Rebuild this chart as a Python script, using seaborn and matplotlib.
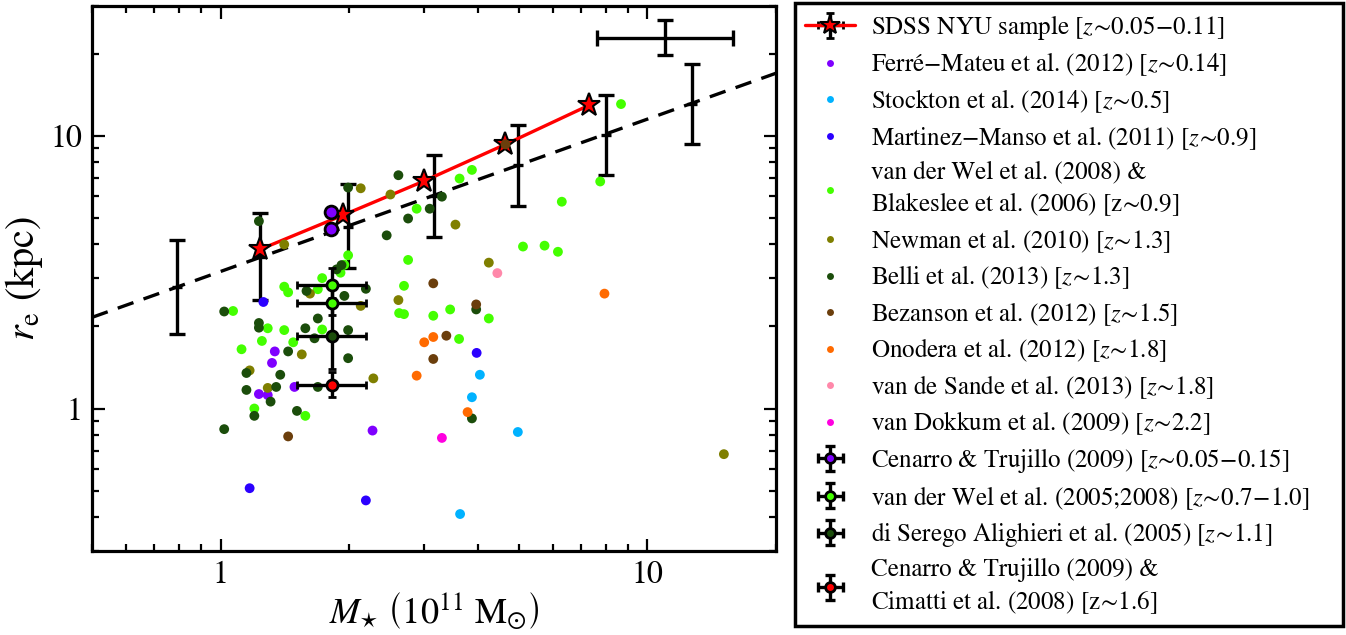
import numpy as np
import pandas as pd
import matplotlib
matplotlib.use('Agg')
import matplotlib.pyplot as plt
import seaborn as sns
from matplotlib.lines import Line2D
from matplotlib.container import ErrorbarContainer
from matplotlib.collections import LineCollection
from matplotlib.ticker import LogLocator, NullFormatter, FuncFormatter

# ---------------- data (M in 1e11 Msun, r_e in kpc) ----------------
SDSS_M = [1.24, 1.94, 3.00, 4.65, 7.29]
SDSS_R = [3.84, 5.13, 6.84, 9.32, 12.96]

DASH_M = [0.5, 20.0]
DASH_R = [2.16, 17.0]

BIN_M = [0.79, 1.24, 1.99, 3.16, 4.97, 8.01, 12.7]
BIN_R = [2.79, 3.59, 4.65, 6.02, 7.83, 10.09, 13.07]
BIN_LO = [1.88, 2.50, 3.29, 4.27, 5.54, 7.19, 9.32]
BIN_HI = [4.14, 5.21, 6.65, 8.52, 10.97, 14.14, 18.44]

TYP_M = [11.0]
TYP_R = [22.8]
TYP_MLO = [7.6]
TYP_MHI = [15.9]
TYP_RLO = [19.8]
TYP_RHI = [26.6]

FERRE_M = [1.34, 1.32, 1.23, 1.29, 1.49, 2.27]
FERRE_R = [1.62, 1.47, 1.13, 1.12, 1.20, 0.83]

STOCKTON_M = [4.05, 3.88, 4.97, 3.64]
STOCKTON_R = [1.33, 1.10, 0.82, 0.41]

MARTINEZ_M = [1.26, 1.17, 2.19, 3.98]
MARTINEZ_R = [2.46, 0.51, 0.46, 1.60]

VDWEL_M = [1.99, 1.95, 1.91, 1.73, 1.41, 1.44, 1.69, 2.69, 2.62, 2.69,
           1.07, 1.29, 1.41, 1.25, 1.12, 1.48, 1.20, 1.58, 1.73, 2.75,
           3.15, 2.88, 3.63, 3.88, 6.30, 7.75, 5.11, 5.74, 6.17, 3.45,
           4.25, 3.62, 8.67]
VDWEL_R = [3.65, 3.37, 3.15, 3.01, 2.80, 2.67, 2.74, 2.82, 2.24, 2.22,
           2.28, 1.97, 1.94, 1.77, 1.65, 1.75, 1.00, 0.94, 1.95, 3.51,
           2.19, 5.41, 6.98, 7.51, 5.74, 6.81, 3.93, 3.96, 3.76, 2.31,
           2.14, 1.80, 13.1]

NEWMAN_M = [1.41, 2.13, 2.50, 1.62, 2.13, 2.61, 1.55, 1.17, 1.29, 2.28, 3.55, 4.25, 15.1]
NEWMAN_R = [4.00, 6.43, 6.10, 2.64, 2.38, 2.50, 1.58, 1.38, 1.19, 1.29, 4.73, 3.43, 0.68]

BELLI_M = [1.23, 1.99, 2.61, 2.45, 1.92, 1.87, 1.59, 2.19, 1.95, 1.02,
           1.23, 1.23, 1.44, 1.15, 1.38, 1.15, 1.35, 1.31, 1.20, 1.51,
           1.02, 1.58, 1.69, 1.66, 1.99, 1.99, 1.69, 2.75, 3.09, 3.30,
           3.97, 3.88]
BELLI_R = [4.87, 6.47, 7.18, 4.32, 3.36, 3.24, 2.70, 2.75, 2.59, 2.27,
           2.06, 1.98, 1.62, 1.35, 1.33, 1.17, 1.20, 1.06, 0.94, 0.98,
           0.84, 1.97, 2.14, 1.81, 1.94, 1.53, 1.20, 4.98, 5.41, 5.99,
           2.31, 0.92]

BEZANSON_M = [1.44, 3.15, 3.15, 3.97, 3.38, 4.65]
BEZANSON_R = [0.79, 2.88, 1.52, 2.41, 1.85, 9.32]

ONODERA_M = [3.00, 3.15, 2.88, 7.93, 3.79]
ONODERA_R = [1.75, 1.83, 1.32, 2.64, 0.97]

VDSANDE_M = [4.45]
VDSANDE_R = [3.14]

VDOKKUM_M = [3.30]
VDOKKUM_R = [0.78]

CT_M = [1.81, 1.81]
CT_R = [5.24, 4.57]

VDW05_M = [1.82, 1.82]
VDW05_R = [2.83, 2.43]
VDW05_RLO = [2.55, 2.20]
VDW05_RHI = [3.27, 2.75]
VDW05_MLO = [1.51, 1.51]
VDW05_MHI = [2.19, 2.19]

DSA_M = [1.82]
DSA_R = [1.84]
DSA_RLO = [1.40]
DSA_RHI = [2.40]
DSA_MLO = [1.51]
DSA_MHI = [2.19]

CIM_M = [1.82]
CIM_R = [1.22]
CIM_RLO = [1.10]
CIM_RHI = [1.36]
CIM_MLO = [1.51]
CIM_MHI = [2.19]

# ---------------- styling ----------------
C_FERRE = '#7f00ff'
C_STOCK = '#00b2ff'
C_MART = '#2b00ff'
C_VDW = '#44ff00'
C_NEWM = '#7f7f00'
C_BELLI = '#1b4d0b'
C_BEZ = '#6b3e0c'
C_ONO = '#ff6a00'
C_SANDE = '#ff88aa'
C_DOKK = '#ff00e0'

sns.set_style('ticks', rc={'axes.edgecolor': 'black', 'xtick.color': 'black',
                           'ytick.color': 'black', 'text.color': 'black',
                           'axes.labelcolor': 'black'})
plt.rcParams['font.family'] = ['STIXGeneral', 'Liberation Serif', 'DejaVu Serif']
plt.rcParams['mathtext.fontset'] = 'stix'

fig = plt.figure(figsize=(13.46, 6.35), dpi=100)
ax = fig.add_axes([92/1346, 1-551/635, (776-92)/1346, (551-6)/635])
ax.set_xscale('log')
ax.set_yscale('log')

# dashed relation
sns.lineplot(x=DASH_M, y=DASH_R, ax=ax, color='black', lw=2.4, zorder=2)
ax.lines[-1].set_dashes((5, 3.2))

# binned error bars
BIN_Ra = np.array(BIN_R)
ax.errorbar(BIN_M, BIN_R, yerr=[BIN_Ra-np.array(BIN_LO), np.array(BIN_HI)-BIN_Ra],
            fmt='_', ms=7, mew=2.4, color='black', ecolor='black', elinewidth=2.4,
            capsize=5.5, capthick=2.4, zorder=3)
ax.errorbar(TYP_M, TYP_R,
            xerr=[np.array(TYP_M)-np.array(TYP_MLO), np.array(TYP_MHI)-np.array(TYP_M)],
            yerr=[np.array(TYP_R)-np.array(TYP_RLO), np.array(TYP_RHI)-np.array(TYP_R)],
            fmt='none', ecolor='black', elinewidth=2.4, capsize=5.5, capthick=2.4, zorder=3)

# SDSS line with stars
sns.lineplot(x=SDSS_M, y=SDSS_R, ax=ax, color='red', lw=2.4, marker='*', markersize=17,
             markerfacecolor='red', markeredgecolor='black', markeredgewidth=1.5, zorder=4)

# scatter samples
groups = [
    ('ferre', FERRE_M, FERRE_R, C_FERRE),
    ('stockton', STOCKTON_M, STOCKTON_R, C_STOCK),
    ('martinez', MARTINEZ_M, MARTINEZ_R, C_MART),
    ('vdwel', VDWEL_M, VDWEL_R, C_VDW),
    ('newman', NEWMAN_M, NEWMAN_R, C_NEWM),
    ('belli', BELLI_M, BELLI_R, C_BELLI),
    ('bezanson', BEZANSON_M, BEZANSON_R, C_BEZ),
    ('onodera', ONODERA_M, ONODERA_R, C_ONO),
    ('sande', VDSANDE_M, VDSANDE_R, C_SANDE),
    ('dokkum', VDOKKUM_M, VDOKKUM_R, C_DOKK),
]
df = pd.concat([pd.DataFrame({'M': m, 'R': r, 'sample': n}) for n, m, r, c in groups],
               ignore_index=True)
palette = {n: c for n, m, r, c in groups}
sns.scatterplot(data=df, x='M', y='R', hue='sample', palette=palette, s=50, linewidth=0,
                legend=False, ax=ax, zorder=5)

# cross error-bar points
def cross(m, r, rlo, rhi, mlo, mhi, col):
    m = np.array(m); r = np.array(r)
    ax.errorbar(m, r, xerr=[m-np.array(mlo), np.array(mhi)-m],
                yerr=[r-np.array(rlo), np.array(rhi)-r],
                fmt='o', ms=8, mfc=col, mec='black', mew=2, ecolor='black',
                elinewidth=2.4, capsize=3, capthick=2.4, zorder=6)

cross(VDW05_M, VDW05_R, VDW05_RLO, VDW05_RHI, VDW05_MLO, VDW05_MHI, C_VDW)
cross(DSA_M, DSA_R, DSA_RLO, DSA_RHI, DSA_MLO, DSA_MHI, C_BELLI)
cross(CIM_M, CIM_R, CIM_RLO, CIM_RHI, CIM_MLO, CIM_MHI, 'red')
sns.scatterplot(x=CT_M, y=CT_R, ax=ax, color=C_FERRE, edgecolor='black', linewidth=2,
                s=85, zorder=6)

ax.set_xlim(0.5, 20)
ax.set_ylim(0.3, 30)

fmt = FuncFormatter(lambda v, p: f'{v:g}')
for axis in (ax.xaxis, ax.yaxis):
    axis.set_major_locator(LogLocator(base=10, numticks=10))
    axis.set_minor_locator(LogLocator(base=10, subs=np.arange(2, 10), numticks=20))
    axis.set_major_formatter(fmt)
    axis.set_minor_formatter(NullFormatter())
ax.tick_params(which='both', direction='in', top=True, right=True, width=1.6,
               labelsize=23, pad=7)
ax.tick_params(which='major', length=9)
ax.tick_params(which='minor', length=5)
for sp in ax.spines.values():
    sp.set_linewidth(2.3)
    sp.set_color('black')

ax.set_xlabel(r'$M_{\star}\ \left(10^{11}\ \mathrm{M}_{\odot}\right)$', fontsize=26, labelpad=0)
ax.set_ylabel(r'$r_{\mathrm{e}}$ (kpc)', fontsize=29, labelpad=4)

# ---------------- legend ----------------
def err_handle(face, line=False):
    if line:
        pl = Line2D([], [], color='red', lw=2.4, marker='*', ms=15, mfc='red',
                    mec='black', mew=1.5)
        cap = Line2D([], [], ls='none', marker='|', color='black', ms=6, mew=2)
    else:
        pl = Line2D([], [], ls='none', marker='o', ms=7, mfc=face, mec='black', mew=2)
        cap = Line2D([], [], ls='none', marker='|', color='black', ms=7, mew=2.4)
    bars = LineCollection([], colors='black', linewidths=2.4)
    bars2 = LineCollection([], colors='black', linewidths=2.4)
    return ErrorbarContainer((pl, (cap,), (bars, bars2)), has_xerr=True, has_yerr=True)

def dot(c):
    return Line2D([], [], ls='none', marker='o', ms=5, color=c, mew=0)

handles = [err_handle(None, line=True), dot(C_FERRE), dot(C_STOCK), dot(C_MART),
           dot(C_VDW), dot(C_NEWM), dot(C_BELLI), dot(C_BEZ), dot(C_ONO),
           dot(C_SANDE), dot(C_DOKK), err_handle(C_FERRE), err_handle(C_VDW),
           err_handle(C_BELLI), err_handle('red')]
labels = [
    r'SDSS NYU sample [$z\!\sim\!0.05\!-\!0.11$]',
    r'Ferré$-$Mateu et al. (2012) [$z\!\sim\!0.14$]',
    r'Stockton et al. (2014) [$z\!\sim\!0.5$]',
    r'Martinez$-$Manso et al. (2011) [$z\!\sim\!0.9$]',
    'van der Wel et al. (2008) &\nBlakeslee et al. (2006) [z$\\!\\sim\\!$0.9]',
    r'Newman et al. (2010) [$z\!\sim\!1.3$]',
    r'Belli et al. (2013) [$z\!\sim\!1.3$]',
    r'Bezanson et al. (2012) [$z\!\sim\!1.5$]',
    r'Onodera et al. (2012) [$z\!\sim\!1.8$]',
    r'van de Sande et al. (2013) [$z\!\sim\!1.8$]',
    r'van Dokkum et al. (2009) [$z\!\sim\!2.2$]',
    r'Cenarro & Trujillo (2009) [$z\!\sim\!0.05\!-\!0.15$]',
    r'van der Wel et al. (2005;2008) [$z\!\sim\!0.7\!-\!1.0$]',
    r'di Serego Alighieri et al. (2005) [$z\!\sim\!1.1$]',
    'Cenarro & Trujillo (2009) &\nCimatti et al. (2008) [z$\\!\\sim\\!$1.6]',
]
leg = fig.legend(handles, labels, loc='upper left',
                 bbox_to_anchor=(795/1346, 0.005, (1343-795)/1346, 1-3/635-0.005),
                 mode='expand', borderaxespad=0, fontsize=18, labelspacing=0.35,
                 handlelength=2.0, handletextpad=0.65, borderpad=0.4, frameon=True,
                 fancybox=False, edgecolor='black', framealpha=1)
leg.get_frame().set_linewidth(2.5)
for t in leg.get_texts():
    t.set_linespacing(1.3)

fig.savefig('out.png', dpi=100)
